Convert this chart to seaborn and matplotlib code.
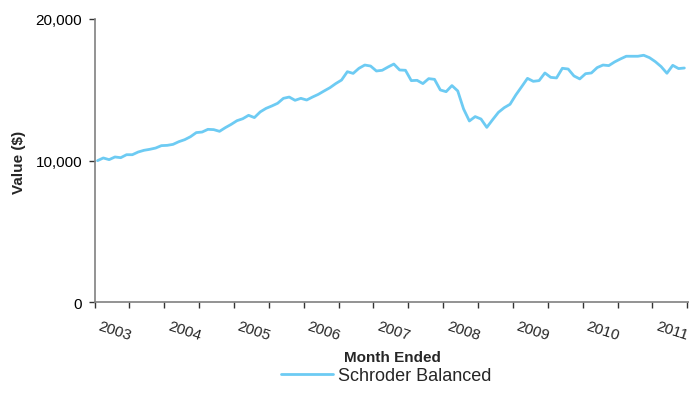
import matplotlib
matplotlib.use("Agg")
import matplotlib.pyplot as plt
import matplotlib.transforms as mtransforms
import numpy as np
import pandas as pd
import seaborn as sns

# Month-end value of a $10,000 investment
series_name = "Schroder Balanced"
values = [
    10000, 10190, 10070, 10260, 10210, 10420, 10420, 10610, 10730, 10800,
    10890, 11060, 11080, 11150, 11340, 11480, 11690, 11980, 12020, 12210,
    12190, 12070, 12330, 12560, 12820, 12960, 13200, 13040, 13440, 13690,
    13860, 14050, 14400, 14490, 14260, 14400, 14280, 14490, 14680, 14920,
    15150, 15440, 15690, 16280, 16160, 16520, 16750, 16680, 16330, 16380,
    16610, 16820, 16400, 16380, 15650, 15670, 15440, 15790, 15740, 14990,
    14870, 15300, 14920, 13650, 12800, 13110, 12940, 12350, 12890, 13410,
    13740, 13980, 14640, 15220, 15810, 15600, 15650, 16190, 15880, 15840,
    16520, 16470, 15980, 15770, 16140, 16190, 16570, 16750, 16710, 16970,
    17180, 17370, 17370, 17370, 17440, 17270, 16990, 16640, 16170, 16730,
    16500, 16540,
]
year_labels = ["2003", "2004", "2005", "2006", "2007", "2008", "2009", "2010", "2011"]
y_ticks = [0, 10000, 20000]
y_tick_labels = ["0", "10,000", "20,000"]

df = pd.DataFrame({"month": np.arange(len(values)), "value": values,
                   "fund": series_name})

sns.set_style("white")
plt.rcParams["font.family"] = ["Liberation Sans", "DejaVu Sans"]

W, H = 689, 410
fig = plt.figure(figsize=(W / 100, H / 100), dpi=100)
left, right, top, bottom = 94.6, 689.0, 20.0, 303.3
ax = fig.add_axes([left / W, 1 - bottom / H, (right - left) / W, (bottom - top) / H])

line_color = "#6DCBF3"
sns.lineplot(data=df, x="month", y="value", hue="fund", palette=[line_color],
             linewidth=2.0, ax=ax, legend=True)

n = len(values)
ax.set_xlim(-0.5, n - 0.5 + 0.3)
ax.set_ylim(0, 20000)

# axes frame
for side in ("top", "right"):
    ax.spines[side].set_visible(False)
for side in ("left", "bottom"):
    ax.spines[side].set_color("#808080")
    ax.spines[side].set_linewidth(1.2)

ax.set_yticks(y_ticks)
ax.set_yticklabels(y_tick_labels)
ax.tick_params(axis="y", direction="out", length=4, width=1, color="#333333",
               pad=5, labelsize=11, labelcolor="#000000", left=True)

# half-year tick marks on the category axis
half_year_ticks = np.arange(-0.5, n + 0.5, 6)
ax.set_xticks(half_year_ticks)
ax.set_xticklabels([])
ax.tick_params(axis="x", direction="out", length=4.5, width=1, color="#333333",
               bottom=True)

# slanted year labels, anchored just right of every other tick
offset = mtransforms.ScaledTranslation(6 / 100, -16 / 100, fig.dpi_scale_trans)
trans = mtransforms.blended_transform_factory(ax.transData, ax.transAxes) + offset
for k, lab in enumerate(year_labels):
    ax.text(half_year_ticks[2 * k], 0, lab, transform=trans, rotation=-18,
            rotation_mode="anchor", ha="left", va="top", fontsize=11,
            clip_on=False)

ax.set_xlabel("")
ax.set_ylabel("")
fig.text(392 / W, 1 - 358 / H, "Month Ended", ha="center", va="center",
         fontsize=11, fontweight="bold")
fig.text(19 / W, 1 - 162 / H, "Value ($)", ha="center", va="center",
         rotation=90, fontsize=11, fontweight="bold")

handles, labels = ax.get_legend_handles_labels()
ax.legend(handles, labels, loc="center", bbox_to_anchor=(386 / W, 1 - 377 / H),
          bbox_transform=fig.transFigure, frameon=False, fontsize=13,
          handlelength=2.9, handletextpad=0.25, borderpad=0)

ax.grid(False)
fig.savefig("out.png", dpi=100)
